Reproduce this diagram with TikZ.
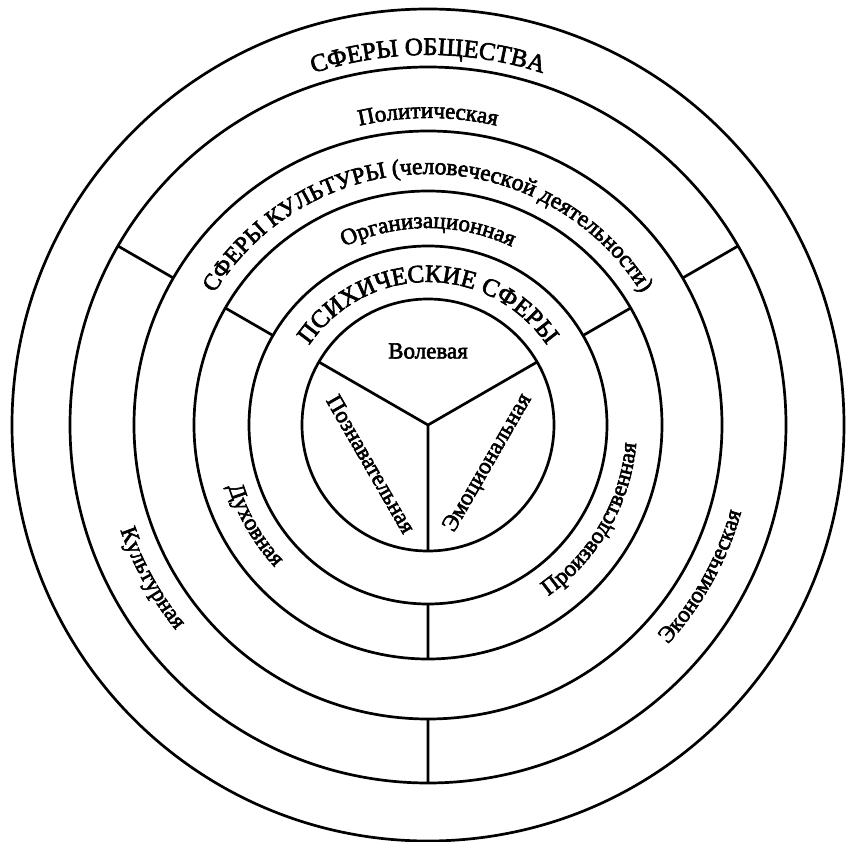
\documentclass[tikz,border=0pt]{standalone}
\usepackage{fontspec}
\setmainfont{Liberation Serif}
\usetikzlibrary{decorations.text}
\font\headfont="Liberation Serif:embolden=2.6" at 25pt
\font\cultheadfont="Liberation Serif:embolden=2.6" at 23.5pt
\font\sphfont="Liberation Serif:embolden=2.6" at 23pt

\begin{document}
\begin{tikzpicture}[
    ring/.style={draw,circle,line width=2.7pt,inner sep=0pt,outer sep=0pt},
    sepline/.style={line width=2.7pt},
    curvetext/.style={decorate,decoration={text along path,text align=center,text={#1}}}]
  \useasboundingbox (-428pt,-416pt) rectangle (421pt,425pt);
  % six concentric circles
  \node[ring,minimum size=832pt] (obsh) at (0,0) {};
  \node[ring,minimum size=716pt] (obshsph) at (0,0) {};
  \node[ring,minimum size=588pt] (kult) at (0,0) {};
  \node[ring,minimum size=468pt] (kultsph) at (0,0) {};
  \node[ring,minimum size=358pt] (psih) at (0,0) {};
  \node[ring,minimum size=252pt] (psihsph) at (0,0) {};
  % dividers
  \draw[sepline] (kult.150) -- (obshsph.150) (kult.30) -- (obshsph.30) (kult.270) -- (obshsph.270);
  \draw[sepline] (psih.150) -- (kultsph.150) (psih.30) -- (kultsph.30) (psih.270) -- (kultsph.270);
  \draw[sepline] (psihsph.center) -- (psihsph.150) (psihsph.center) -- (psihsph.30) (psihsph.center) -- (psihsph.270);
  % ring titles
  \path[curvetext={|\headfont|СФЕРЫ ОБЩЕСТВА}] (150:370pt) arc[start angle=150,end angle=30,radius=370pt];
  \path[curvetext={|\cultheadfont|СФЕРЫ КУЛЬТУРЫ (человеческой деятельности)}] (175:251pt) arc[start angle=175,end angle=5,radius=251pt];
  \path[curvetext={|\headfont|ПСИХИЧЕСКИЕ СФЕРЫ}] (170:143pt) arc[start angle=170,end angle=10,radius=143pt];
  % spheres of society
  \path[curvetext={|\sphfont|Политическая}] (150:307pt) arc[start angle=150,end angle=30,radius=307pt];
  \path[curvetext={|\sphfont|Культурная}] (169:325pt) arc[start angle=169,end angle=249,radius=325pt];
  \path[curvetext={|\sphfont|Экономическая}] (291:325pt) arc[start angle=291,end angle=371,radius=325pt];
  % spheres of culture
  \path[curvetext={|\sphfont|Организационная}] (150:197pt) arc[start angle=150,end angle=30,radius=197pt];
  \path[curvetext={|\sphfont|Духовная}] (170:209pt) arc[start angle=170,end angle=250,radius=209pt];
  \path[curvetext={|\sphfont|Производственная}] (290:209pt) arc[start angle=290,end angle=370,radius=209pt];
  % psychic spheres
  \node (volev) at (0pt,74pt) {\sphfont Волевая};
  \node[rotate=-60] (poznav) at (-57pt,-39pt) {\sphfont Познавательная};
  \node[rotate=60] (emoc) at (60pt,-38pt) {\sphfont Эмоциональная};
\end{tikzpicture}
\end{document}
